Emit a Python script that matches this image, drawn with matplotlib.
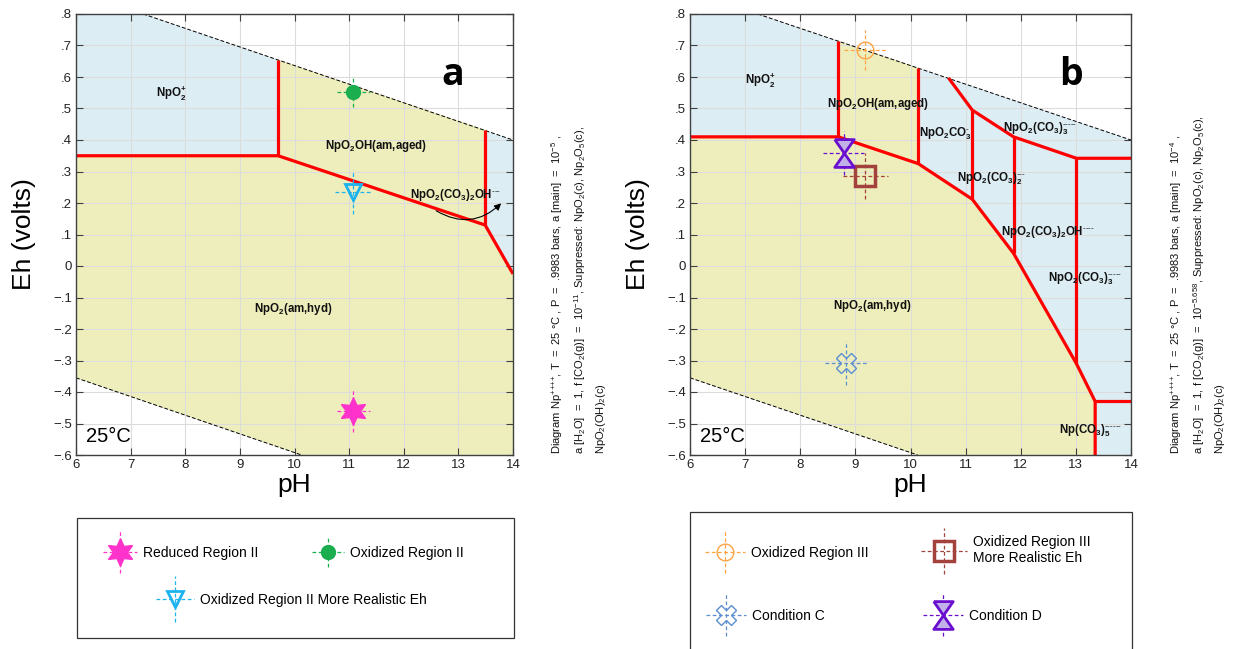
import matplotlib
matplotlib.use('Agg')
import matplotlib.pyplot as plt
from matplotlib.ticker import FuncFormatter, MultipleLocator
from matplotlib.legend_handler import HandlerErrorbar
from matplotlib.patches import Polygon, Rectangle

plt.rcParams['font.family'] = ['Liberation Sans', 'DejaVu Sans']
plt.rcParams['mathtext.fontset'] = 'custom'
plt.rcParams['mathtext.rm'] = 'Liberation Sans'
plt.rcParams['mathtext.it'] = 'Liberation Sans:italic'
plt.rcParams['mathtext.bf'] = 'Liberation Sans:bold'

W, H = 1239, 649
# 그림 크기 (픽셀)

# 물의 안정 영역 경계 (점선)
water_top_ph = [7.23, 14.0]
water_top_eh = [0.80, 0.40]
water_bot_ph = [6.0, 10.13]
water_bot_eh = [-0.355, -0.60]

# (a) 경계선
a_low_ph = [6.0, 9.70, 13.49, 14.0]
a_low_eh = [0.35, 0.35, 0.13, -0.025]
a_vert_ph = [9.70, 13.49]
a_vert_bot = [0.35, 0.13]
a_vert_top = [0.655, 0.432]

# (b) 경계선
b_low_ph = [6.0, 8.69, 10.14, 11.12, 11.87, 13.01, 13.35, 13.35]
b_low_eh = [0.41, 0.41, 0.325, 0.212, 0.04, -0.31, -0.43, -0.60]
b_vert_ph = [8.69, 10.14, 11.12, 11.87, 13.01]
b_vert_bot = [0.41, 0.325, 0.212, 0.04, -0.31]
b_vert_top = [0.714, 0.630, 0.495, 0.41, 0.342]
b_upper_ph = [10.69, 11.12, 11.87, 13.01, 14.0]
b_upper_eh = [0.597, 0.495, 0.41, 0.342, 0.342]
b_np5_ph = [13.35, 14.0]
b_np5_eh = [-0.43, -0.43]

# 측정 지점
a_names = ['Reduced Region II', 'Oxidized Region II', 'Oxidized Region II More Realistic Eh']
a_ph = [11.08, 11.08, 11.08]
a_eh = [-0.46, 0.553, 0.236]
a_xerr = [0.30, 0.30, 0.33]
a_yerr = [0.067, 0.048, 0.07]

b_names = ['Oxidized Region III', 'Oxidized Region III\nMore Realistic Eh', 'Condition C', 'Condition D']
b_ph = [9.18, 9.18, 8.83, 8.79]
b_eh = [0.686, 0.286, -0.307, 0.358]
b_xerr = [0.38, 0.41, 0.375, 0.375]
b_yerr = [0.064, 0.074, 0.07, 0.07]

# 영역 이름
sub = lambda s: r'$_\mathbf{' + s + '}$'
chg = lambda n: r'$^{\text{' + '-' * n + '}}$'
a_labels = [
    (r'NpO$_\mathbf{2}^\mathbf{+}$', 7.75, 0.55),
    ('NpO' + sub('2') + 'OH(am,aged)', 11.5, 0.38),
    ('NpO' + sub('2') + '(CO' + sub('3') + ')' + sub('2') + 'OH' + chg(3), 12.94, 0.225),
    ('NpO' + sub('2') + '(am,hyd)', 9.97, -0.135),
]
b_labels = [
    (r'NpO$_\mathbf{2}^\mathbf{+}$', 7.27, 0.59),
    ('NpO' + sub('2') + 'OH(am,aged)', 9.42, 0.514),
    (r'NpO$_\mathbf{2}$CO$_\mathbf{3}^{\text{-}}$', 10.63, 0.421),
    ('NpO' + sub('2') + r'(CO$_\mathbf{3}$)$_\mathbf{3}^{\text{-----}}$', 12.35, 0.437),
    ('NpO' + sub('2') + r'(CO$_\mathbf{3}$)$_\mathbf{2}^{\text{---}}$', 11.47, 0.278),
    ('NpO' + sub('2') + '(CO' + sub('3') + ')' + sub('2') + 'OH' + chg(4), 12.5, 0.109),
    ('NpO' + sub('2') + r'(CO$_\mathbf{3}$)$_\mathbf{3}^{\text{-----}}$', 13.17, -0.042),
    (r'Np(CO$_\mathbf{3}$)$_\mathbf{5}^{\text{------}}$', 13.26, -0.524),
    ('NpO' + sub('2') + '(am,hyd)', 9.3, -0.127),
]

a_caption = (r'Diagram Np$^{\text{++++}}$, T  =  25 °C , P  =  .9983 bars, a [main]  =  10$^{-5}$ ,' '\n'
             'a [H$_2$O]  =  1, f [CO$_2$(g)]  =  10$^{-11}$, Suppressed: NpO$_2$(c), Np$_2$O$_5$(c),\n'
             'NpO$_2$(OH)$_2$(c)')
b_caption = (r'Diagram Np$^{\text{++++}}$, T  =  25 °C , P  =  .9983 bars, a [main]  =  10$^{-4}$ ,' '\n'
             'a [H$_2$O]  =  1, f [CO$_2$(g)]  =  10$^{-5.658}$, Suppressed: NpO$_2$(c), Np$_2$O$_5$(c),\n'
             'NpO$_2$(OH)$_2$(c)')

BLUE = '#dcedf4'
YELLOW = '#eeeebc'
RED = '#ff0000'

hourglass = [(-0.7, 1), (0.7, 1), (-0.7, -1), (0.7, -1), (-0.7, 1)]
a_styles = [
    dict(marker=(6, 1, 0), ms=20, mfc='#ff33cc', mec='#ff33cc', color='#ff33cc'),
    dict(marker='o', ms=10, mfc='#1aae4e', mec='#1aae4e', color='#1aae4e'),
    dict(marker='v', ms=12, mfc='none', mec='#1db3ee', mew=2, color='#1db3ee'),
]
b_styles = [
    dict(marker='o', ms=12, mfc='none', mec='#ffa347', mew=1, color='#ffa347'),
    dict(marker='s', ms=14, mfc='none', mec='#a3423c', mew=2.5, color='#a3423c'),
    dict(marker='X', ms=14, mfc='none', mec='#5b8fd0', mew=1, color='#5b8fd0'),
    dict(marker=hourglass, ms=20, mfc='#c2b0e8', mec='#6a0fd0', mew=2, color='#6a0fd0'),
]

# 범례 위치 (마커 중심 px, 오차막대 반길이 px)
a_leg = [(120, 553, 17, 21), (328, 553, 16, 15), (175, 600, 19, 23)]
b_leg = [(725, 553, 20, 21), (944, 550, 23, 23), (726, 616, 20, 21), (943, 616, 20, 21)]


def eh_fmt(v, pos):
    if abs(v) < 1e-9:
        return '0'
    s = f'{abs(v):.1f}'.lstrip('0')
    return ('\u2212' if v < 0 else '') + s


def panel(rect, low_ph, low_eh, vert_ph, vert_bot, vert_top, extra, labels,
          ph, eh, xerr, yerr, styles, letter, caption, cap_x):
    ax = fig.add_axes(rect)
    ax.set_xlim(6, 14)
    ax.set_ylim(-0.6, 0.8)

    # 물 안정 영역 (파랑)
    bx = [6.0] + water_top_ph + [14.0] + water_bot_ph[::-1]
    by = [0.8] + water_top_eh + [-0.6] + water_bot_eh[::-1]
    ax.add_patch(Polygon(list(zip(bx, by)), closed=True, fc=BLUE, ec='none', zorder=0.2))
    # 고체 영역 (노랑)
    hx = low_ph + ([14.0] if low_eh[-1] > -0.6 else []) + water_bot_ph[::-1]
    hy = low_eh + ([-0.6] if low_eh[-1] > -0.6 else []) + water_bot_eh[::-1]
    ax.add_patch(Polygon(list(zip(hx, hy)), closed=True, fc=YELLOW, ec='none', zorder=0.3))
    gx = [vert_ph[0], vert_ph[0], vert_ph[1], vert_ph[1]]
    gy = [vert_bot[0], vert_top[0], vert_top[1], vert_bot[1]]
    ax.add_patch(Polygon(list(zip(gx, gy)), closed=True, fc=YELLOW, ec='none', zorder=0.3))

    ax.plot(water_top_ph, water_top_eh, color='k', lw=0.7, ls=(0, (4, 2)), zorder=1.5)
    ax.plot(water_bot_ph, water_bot_eh, color='k', lw=0.7, ls=(0, (4, 2)), zorder=1.5)

    ax.plot(low_ph, low_eh, color=RED, lw=2.3, zorder=2, solid_capstyle='butt')
    for x, y0, y1 in zip(vert_ph, vert_bot, vert_top):
        ax.plot([x, x], [y0, y1], color=RED, lw=2.3, zorder=2, solid_capstyle='butt')
    for xs, ys in extra:
        ax.plot(xs, ys, color=RED, lw=2.3, zorder=2, solid_capstyle='butt')

    for t, x, y in labels:
        ax.text(x, y, t, fontsize=8.3, fontweight='bold', ha='center', va='center',
                color='#111111', zorder=4, clip_on=False)

    conts = []
    for x, y, xe, ye, st in zip(ph, eh, xerr, yerr, styles):
        st = dict(st)
        c = ax.errorbar([x], [y], xerr=[xe], yerr=[ye], ls='none', elinewidth=0.9,
                        capsize=0, ecolor=st.pop('color'), zorder=3, **st)
        for b in c[2]:
            b.set_linestyle((0, (3, 2)))
        conts.append(c)

    ax.xaxis.set_major_locator(MultipleLocator(1))
    ax.yaxis.set_major_locator(MultipleLocator(0.1))
    ax.yaxis.set_major_formatter(FuncFormatter(eh_fmt))
    ax.grid(True, color='#dcdcdc', lw=0.8)
    ax.set_axisbelow(True)
    ax.tick_params(direction='in', length=5, top=True, right=True, labelsize=9.5,
                   color='#404040', labelcolor='#222222', pad=3)
    for s in ax.spines.values():
        s.set_color('#404040')
        s.set_linewidth(1)
        s.set_zorder(5)
    ax.set_xlabel('pH', fontsize=19, labelpad=1)
    ax.set_ylabel('Eh (volts)', fontsize=19, labelpad=12)
    ax.text(0.863, 0.862, letter, transform=ax.transAxes, fontsize=27, fontweight='bold',
            family=['Open Sans', 'DejaVu Sans'], ha='center', va='center', zorder=6)
    ax.text(0.023, 0.041, '25°C', transform=ax.transAxes, fontsize=14.5, ha='left',
            va='center', zorder=6)
    fig.text(cap_x / W, 1 - 454 / H, caption, rotation=90, ha='left', va='bottom',
             fontsize=8, linespacing=1.62, color='#111111')
    return ax, conts


fig = plt.figure(figsize=(W / 100, H / 100), dpi=100)

ax_a, conts_a = panel([76 / W, 1 - 455 / H, 437 / W, 441 / H],
                      a_low_ph, a_low_eh, a_vert_ph, a_vert_bot, a_vert_top, [],
                      a_labels, a_ph, a_eh, a_xerr, a_yerr, a_styles, 'a', a_caption, 549)
ax_a.annotate('', xy=(13.82, 0.205), xytext=(12.55, 0.18),
              arrowprops=dict(arrowstyle='-|>', color='k', lw=0.8,
                              connectionstyle='arc3,rad=0.4', mutation_scale=10), zorder=4)

b_extra = [(b_upper_ph, b_upper_eh), (b_np5_ph, b_np5_eh)]
ax_b, conts_b = panel([690 / W, 1 - 455 / H, 441 / W, 441 / H],
                      b_low_ph, b_low_eh, b_vert_ph, b_vert_bot, b_vert_top, b_extra,
                      b_labels, b_ph, b_eh, b_xerr, b_yerr, b_styles, 'b', b_caption, 1168)

# 범례 상자
fig.add_artist(Rectangle((77 / W, 1 - 638 / H), 437 / W, 120 / H, transform=fig.transFigure,
                         fill=False, ec='#333333', lw=0.9))
fig.add_artist(Rectangle((690 / W, 1 - 655 / H), 442 / W, 143 / H, transform=fig.transFigure,
                         fill=False, ec='#333333', lw=0.9))

FS = 10
pt = 72 / 100
for conts, names, legs in [(conts_a, a_names, a_leg), (conts_b, b_names, b_leg)]:
    for c, n, (mx, my, hx, hy) in zip(conts, names, legs):
        hl = 2 * hx * pt / FS
        lg = fig.legend([c], [n], loc='center left',
                        bbox_to_anchor=((mx - hx) / W, 1 - my / H),
                        frameon=False, fontsize=FS, borderpad=0, borderaxespad=0,
                        handlelength=hl, handletextpad=0.45,
                        handler_map={type(c): HandlerErrorbar(xerr_size=hx * pt / FS,
                                                              yerr_size=hy * pt / FS)})

fig.savefig('out.png', dpi=100)
